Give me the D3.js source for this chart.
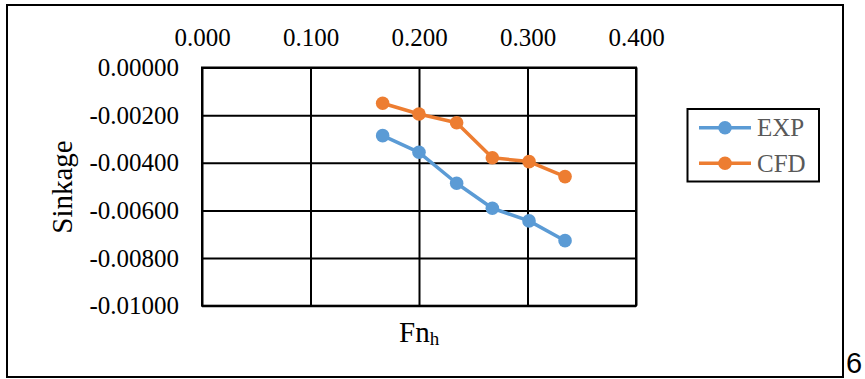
<!DOCTYPE html>
<html>
<head>
<meta charset="utf-8">
<script src="https://cdn.jsdelivr.net/npm/d3@7/dist/d3.min.js"></script>
<style>
  html, body { margin: 0; padding: 0; background: #fff; }
  svg text { font-family: "Liberation Serif", "Times New Roman", serif; }
</style>
</head>
<body>
<svg id="chart" width="865" height="379"></svg>
<script>
// Froude number (depth-based) at each run
const fnh = [0.1665, 0.200, 0.2347, 0.2676, 0.3014, 0.3346];
// Measured sinkage
const expSinkage = [-0.00286, -0.00356, -0.00486, -0.00591, -0.00644, -0.00727];
// Computed sinkage
const cfdSinkage = [-0.00150, -0.00195, -0.00232, -0.00379, -0.00395, -0.00458];

const seriesNames = ["EXP", "CFD"];
const seriesColors = ["#5B9BD5", "#ED7D31"];

const xTicks = [0, 0.1, 0.2, 0.3, 0.4];
const yTicks = [0, -0.002, -0.004, -0.006, -0.008, -0.010];

const serif = "'Liberation Serif', 'Times New Roman', serif";
const svg = d3.select("#chart");

// outer frame
svg.append("rect")
  .attr("x", 7).attr("y", 5).attr("width", 836).attr("height", 372)
  .attr("fill", "none").attr("stroke", "#000").attr("stroke-width", 2);

const plot = { left: 202, top: 67.5, right: 636, bottom: 305.7 };

const x = d3.scaleLinear().domain([0, 0.4]).range([plot.left, plot.right]);
const y = d3.scaleLinear().domain([0, -0.010]).range([plot.top, plot.bottom]);

// vertical grid + top axis labels
const xAxis = d3.axisTop(x)
  .tickValues(xTicks)
  .tickFormat(d3.format(".3f"))
  .tickSize(-(plot.bottom - plot.top))
  .tickPadding(22);
const gx = svg.append("g")
  .attr("transform", `translate(0,${plot.top})`)
  .call(xAxis)
  .attr("font-family", serif).attr("font-size", 25);
gx.select(".domain").remove();
gx.selectAll(".tick line").attr("stroke", "#000").attr("stroke-width", 2);
gx.selectAll(".tick text").attr("fill", "#000");

// horizontal grid + left axis labels
const yAxis = d3.axisLeft(y)
  .tickValues(yTicks)
  .tickFormat(d => d === 0 ? "0.00000" : d3.format(".5f")(d).replace("\u2212", "-"))
  .tickSize(-(plot.right - plot.left))
  .tickPadding(23);
const gy = svg.append("g")
  .attr("transform", `translate(${plot.left},0)`)
  .call(yAxis)
  .attr("font-family", serif).attr("font-size", 25);
gy.select(".domain").remove();
gy.selectAll(".tick line").attr("stroke", "#000").attr("stroke-width", 2);
gy.selectAll(".tick text").attr("fill", "#000");

// plot border
svg.append("rect")
  .attr("x", plot.left).attr("y", plot.top)
  .attr("width", plot.right - plot.left).attr("height", plot.bottom - plot.top)
  .attr("fill", "none").attr("stroke", "#000").attr("stroke-width", 2);

// series
const series = [expSinkage, cfdSinkage].map((vals, i) => ({
  name: seriesNames[i],
  color: seriesColors[i],
  points: fnh.map((f, j) => ({ f, s: vals[j] }))
}));

const line = d3.line().x(d => x(d.f)).y(d => y(d.s));

series.forEach(s => {
  const g = svg.append("g");
  g.append("path")
    .attr("d", line(s.points))
    .attr("fill", "none").attr("stroke", s.color)
    .attr("stroke-width", 3.5).attr("stroke-linejoin", "round");
  g.selectAll("circle").data(s.points).join("circle")
    .attr("cx", d => x(d.f)).attr("cy", d => y(d.s))
    .attr("r", 6.8).attr("fill", s.color);
});

// axis titles
svg.append("text")
  .attr("transform", "translate(72,187) rotate(-90)")
  .attr("text-anchor", "middle")
  .attr("font-size", 29).attr("fill", "#000")
  .text("Sinkage");

const xt = svg.append("text")
  .attr("x", 399).attr("y", 341.5)
  .attr("font-size", 29).attr("fill", "#000");
xt.append("tspan").text("Fn");
xt.append("tspan").attr("font-size", 19).attr("dy", 3.5).text("h");

// legend
const lg = svg.append("g");
lg.append("rect")
  .attr("x", 687.5).attr("y", 109).attr("width", 131.5).attr("height", 72.5)
  .attr("fill", "#fff").attr("stroke", "#000").attr("stroke-width", 2);
series.forEach((s, i) => {
  const cy = 127.7 + i * 35.6;
  lg.append("line")
    .attr("x1", 699).attr("x2", 751).attr("y1", cy).attr("y2", cy)
    .attr("stroke", s.color).attr("stroke-width", 3.5);
  lg.append("circle").attr("cx", 725).attr("cy", cy).attr("r", 6.8).attr("fill", s.color);
  lg.append("text")
    .attr("x", 757).attr("y", cy + 8.5)
    .attr("font-size", 25).attr("fill", "#595959")
    .text(s.name);
});

// page number beside the frame
svg.append("text")
  .attr("x", 846).attr("y", 373)
  .attr("font-size", 29).attr("fill", "#000")
  .style("font-family", "'Liberation Sans', 'DejaVu Sans', sans-serif")
  .text("6");
</script>
</body>
</html>
